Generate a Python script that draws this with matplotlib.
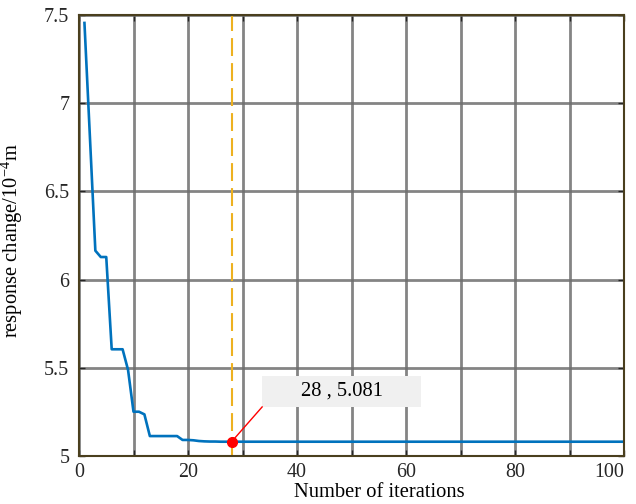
import matplotlib
matplotlib.use("Agg")
import matplotlib.pyplot as plt
from matplotlib.patches import Rectangle
import numpy as np

# ---- data ----
iterations = list(range(1, 101))
response = ([7.455, 6.81, 6.164, 6.128, 6.128, 5.605, 5.605, 5.605, 5.488, 5.251,
             5.251, 5.236, 5.113, 5.113, 5.113, 5.113, 5.113, 5.113, 5.091, 5.091,
             5.089, 5.085, 5.083, 5.082, 5.082, 5.081, 5.081] + [5.081] * 73)
best_iter = 28
best_value = 5.081
x_ticks = list(range(0, 101, 10))
x_tick_labels = ["0", "", "20", "", "40", "", "60", "", "80", "", "100"]
y_ticks = [5, 5.5, 6, 6.5, 7, 7.5]
y_tick_labels = ["5", "5.5", "6", "6.5", "7", "7.5"]
annot_text = "28 , 5.081"
xlabel = "Number of iterations"
ylabel = "response change/10$^{-4}$m"

plt.rcParams['font.family'] = ['Liberation Serif', 'DejaVu Serif']
plt.rcParams['mathtext.fontset'] = 'custom'
plt.rcParams['mathtext.rm'] = 'Liberation Serif'
plt.rcParams['mathtext.it'] = 'Liberation Serif:italic'

fig = plt.figure(figsize=(6.36, 5.04), dpi=100)
ax = fig.add_axes([79/636, 48/504, 545/636, 441/504])

ax.set_xlim(0, 100)
ax.set_ylim(5, 7.5)

# grid
ax.set_xticks(x_ticks)
ax.set_xticklabels(x_tick_labels)
ax.set_yticks(y_ticks)
ax.set_yticklabels(y_tick_labels)
ax.grid(True, color='#6e6e6e', lw=2.0, alpha=0.85, zorder=0)
ax.set_axisbelow(True)

# main curve
ax.plot(iterations, response, color='#0072BD', lw=1.9, zorder=3)

# vertical dashed line
ax.axvline(best_iter, color='#EDB120', lw=1.5, dashes=(8.6, 3.4), zorder=4)

# marker
ax.plot([best_iter], [best_value], 'o', color='red', ms=7, zorder=6)

# annotation box
box_x0, box_y0, box_w, box_h = 33.6, 5.278, 29.2, 0.175
ax.add_patch(Rectangle((box_x0, box_y0), box_w, box_h, facecolor='#f0f0f0',
                       edgecolor='none', zorder=5))
ax.plot([best_iter, box_x0], [best_value, box_y0], color='red', lw=1.0, zorder=5)
ax.text(box_x0 + box_w / 2, box_y0 + box_h / 2 + 0.005, annot_text, ha='center',
        va='center', fontsize=14.8, color='black', zorder=6)

# ticks and spines
ax.tick_params(direction='in', length=4, width=1, top=True, right=True,
               labelsize=14.4, colors='#262626', pad=7)
ax.tick_params(axis='x', pad=5)
for lbl in ax.get_xticklabels():
    if lbl.get_text() == "100":
        lbl.set_horizontalalignment('right')
        lbl.set_x(100)
for s in ax.spines.values():
    s.set_color('#4a3f1e')
    s.set_linewidth(1.5)
    s.set_zorder(7)

ax.set_xlabel(xlabel, fontsize=14.8, va='top')
ax.xaxis.set_label_coords((379.5 - 79) / 545, -0.062)
ax.set_ylabel(ylabel, fontsize=14.8, va='center')
ax.yaxis.set_label_coords(-0.123, 0.4875)

fig.savefig('out.png', dpi=100)
